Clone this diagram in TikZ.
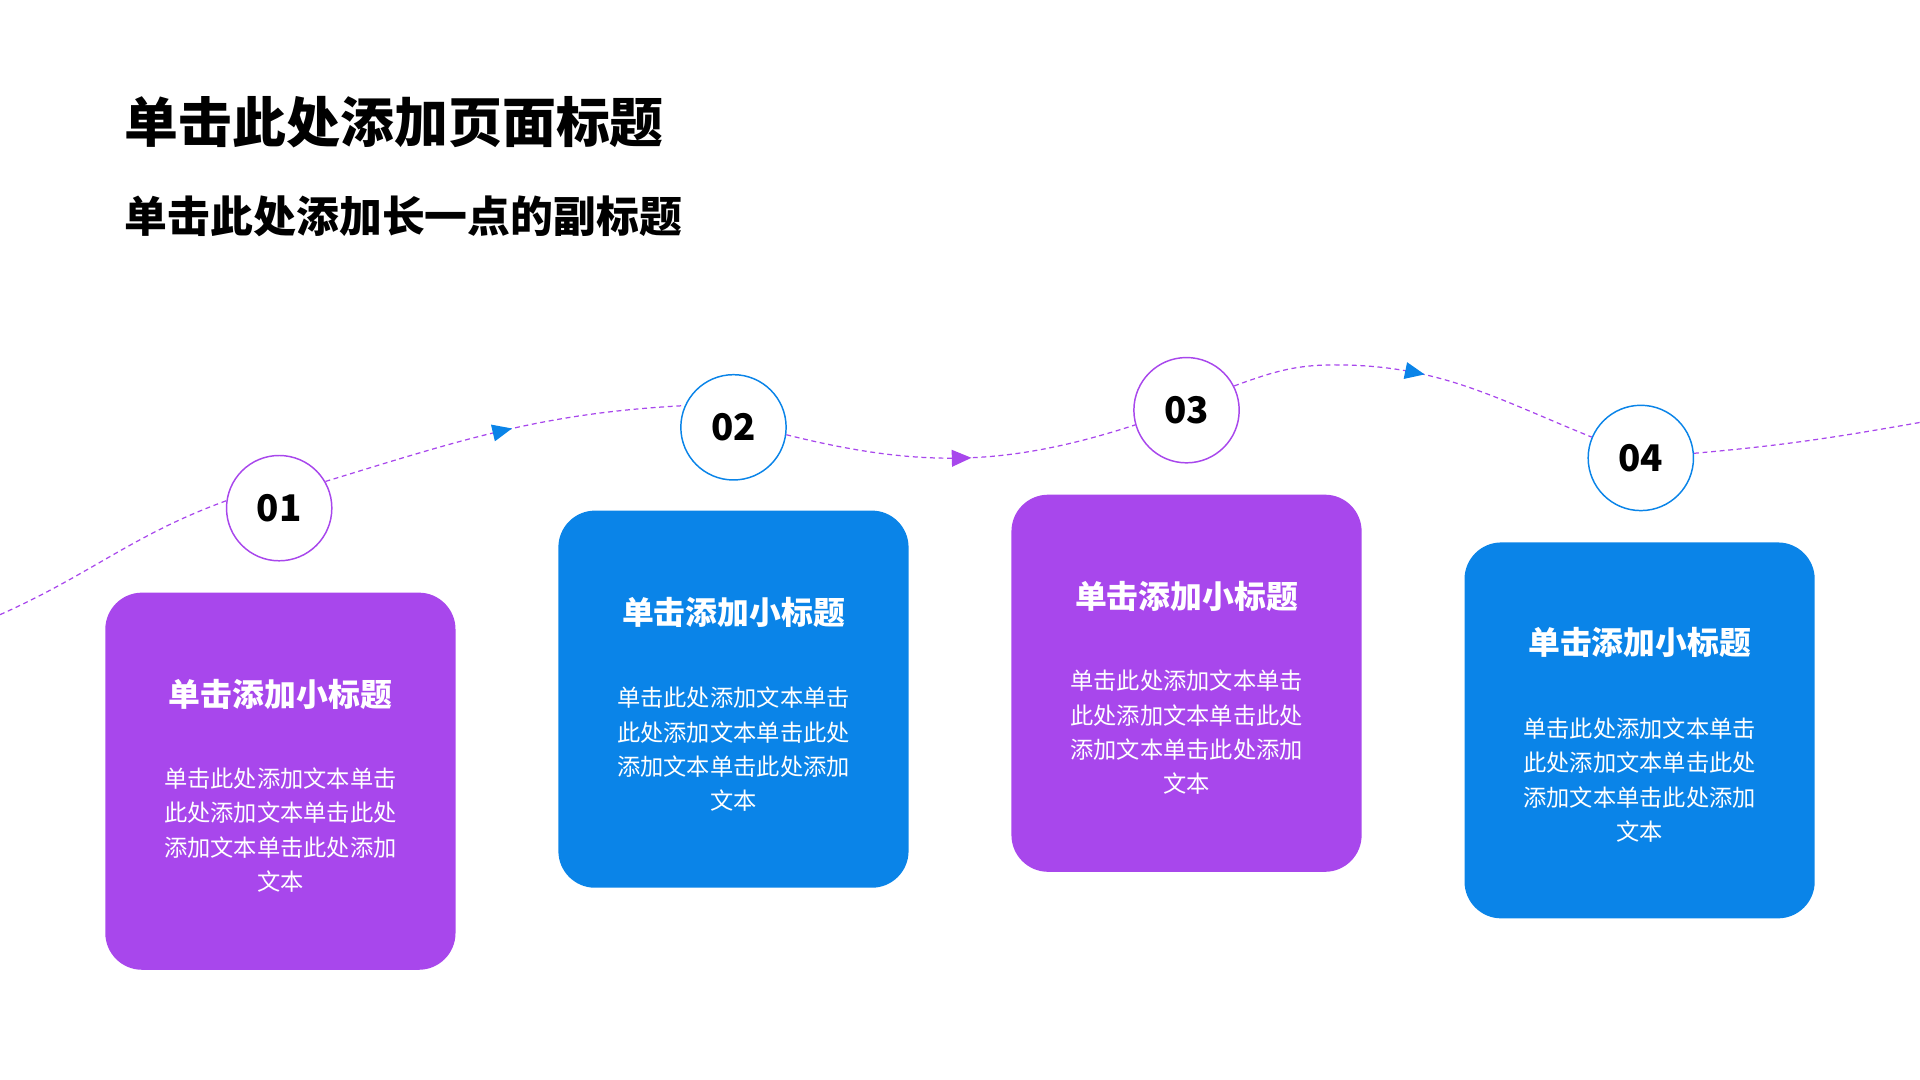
\documentclass[tikz,border=0pt]{standalone}
\usepackage{fontspec}
\setmainfont{Noto Sans CJK SC}
\usetikzlibrary{decorations.markings,arrows.meta}
\definecolor{pur}{HTML}{A847EC}
\definecolor{blu}{HTML}{0A84E8}
\begin{document}
\begin{tikzpicture}[x=0.5pt,y=0.5pt,
  card/.style={rounded corners=15pt,draw=none},
  num/.style={circle,draw,line width=0.6pt,fill=white,minimum size=43pt,inner sep=0pt,font=\fontsize{15}{15}\selectfont\bfseries},
  ct/.style={text=white,font=\fontsize{13}{13}\selectfont\bfseries},
  cb/.style={text=white,align=center,font=\fontsize{9.5}{14}\selectfont},
  dsh/.style={draw=pur,line width=0.5pt,dash pattern=on 2pt off 1.5pt},
  mk/.style 2 args={postaction={decorate,decoration={markings,mark=at position #1 with {\fill[#2] (4pt,0) -- (-4pt,3.5pt) -- (-4pt,-3.5pt) -- cycle;}}}}]
\useasboundingbox (0,0) rectangle (1568,882);
\node[anchor=west,font=\fontsize{22}{22}\selectfont\bfseries] (t) at (95,782) {单击此处添加页面标题};
\node[anchor=west,font=\fontsize{17.5}{17.5}\selectfont\bfseries] (st) at (95,705) {单击此处添加长一点的副标题};
% cards
\fill[card,pur] (86,90) rectangle (372,398);
\fill[card,blu] (456,157) rectangle (742,465);
\fill[card,pur] (826,170) rectangle (1112,478);
\fill[card,blu] (1196,132) rectangle (1482,439);
\foreach \i/\x/\ty/\by in {1/229/315/204, 2/599/382/270, 3/969/395/284, 4/1339/357/245}{
  \node[ct] (ct\i) at (\x,\ty) {单击添加小标题};
  \node[cb] (cb\i) at (\x,\by) {单击此处添加文本单击\\此处添加文本单击此处\\添加文本单击此处添加\\文本};
}
% circles
\node[num,draw=pur] (c1) at (228,467) {01};
\node[num,draw=blu] (c2) at (599,533) {02};
\node[num,draw=pur] (c3) at (969,547) {03};
\node[num,draw=blu] (c4) at (1340,508) {04};
\coordinate (s) at (0,380);
\coordinate (e) at (1568,537);
\coordinate (pk) at (1090,584);
% curves
\draw[dsh] (s) to[out=24,in=200] (c1.172);
\draw[dsh,mk={0.5}{blu}] (c1.30) to[out=17,in=183] (c2.156);
\draw[dsh,mk={0.5}{pur}] (c2.-8) to[out=-14,in=198] (c3.196);
\draw[dsh] (c3.27) to[out=20,in=180] (pk);
\draw[dsh,mk={0.3}{blu}] (pk) to[out=0,in=158] (c4.157);
\draw[dsh] (c4.5) to[out=5,in=190] (e);
\end{tikzpicture}
\end{document}
